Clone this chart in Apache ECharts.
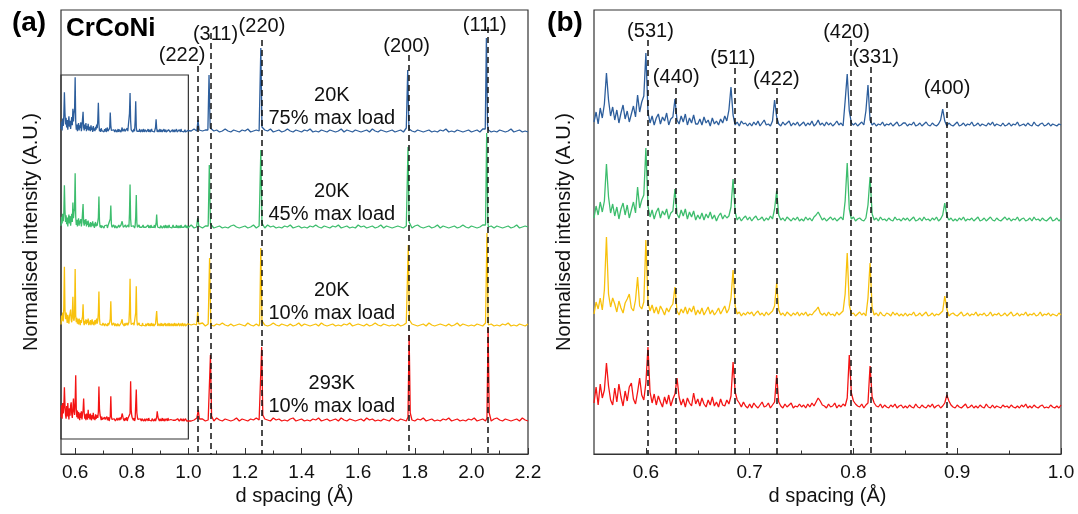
<!DOCTYPE html>
<html lang="en">
<head>
<meta charset="UTF-8">
<title>CrCoNi d spacing</title>
<script src="https://cdn.jsdelivr.net/npm/echarts@6/dist/echarts.min.js"></script>
<style>
  html,body{margin:0;padding:0;background:#fff;}
  #chart{width:1078px;height:514px;}
</style>
</head>
<body>
<div id="chart"></div>
<script>
// ---------- data ----------
// low-d part, 0.55..1.00 A every 0.002 A, intensities in panel (b) units above each trace's baseline
const lowStart = 0.55, lowStep = 0.002;
const lowBlue = [
  4,14,2,18,8,22,53,26,10,19,6,16,3,13,21,7,15,4,12,20,9,31,14,24,30,
  73,14,3,10,1,8,12,2,9,5,13,1,7,9,27,6,2,10,4,12,1,8,3,11,2,
  2,7,1,9,3,6,0,8,2,5,1,7,3,10,5,16,39,11,1,4,0,5,2,3,0,
  3,0,4,1,5,0,3,6,1,2,0,5,26,9,2,0,4,1,3,5,0,3,1,4,0,
  2,4,0,3,1,5,0,2,6,1,3,0,4,1,3,0,2,5,1,3,0,25,52,15,3,
  1,3,0,2,4,1,15,41,6,1,3,0,2,1,4,0,2,1,3,0,2,4,0,1,3,
  3,0,2,1,4,0,1,3,0,2,4,1,0,3,1,0,2,6,17,5,0,3,1,0,2,
  4,0,1,3,0,2,1,4,0,1,3,0,2,1,0,3,1,4,0,2,1,0,3,0,1,
  3,0,2,1,4,0,1,2,0,3,1,0,4,1,0,2,3,0,1,3,0,2,1,0,2,1
];
const lowGreen = [
  3,15,6,19,9,20,57,24,8,17,5,14,2,12,18,6,16,3,11,19,8,34,13,21,26,
  73,15,4,11,2,9,13,3,10,6,12,2,8,10,32,7,3,11,5,12,2,9,4,10,1,
  6,2,8,1,7,3,9,2,6,0,5,8,2,6,3,5,14,42,9,1,4,0,3,5,1,
  4,0,3,5,1,2,4,0,3,1,5,2,12,30,6,1,3,0,4,2,0,3,1,4,0,
  2,0,4,1,3,0,4,6,9,5,1,3,0,2,4,1,3,0,2,4,1,20,58,12,2,
  4,0,2,3,1,0,3,16,44,7,1,3,0,4,1,2,0,3,1,0,4,1,2,0,3,
  1,3,0,2,4,0,1,3,0,4,1,2,0,3,1,4,0,2,6,18,5,1,3,0,2,
  0,3,1,4,0,2,1,3,0,2,4,0,1,3,0,2,4,1,0,3,1,0,2,4,1,
  3,0,2,1,4,0,2,3,0,1,3,0,4,1,2,0,3,1,0,2,4,0,1,3,0,2
];
const lowYellow = [
  2,14,7,18,6,26,79,22,9,18,12,4,15,8,3,13,17,22,8,5,16,39,10,7,14,
  76,14,5,11,3,9,2,10,6,1,8,4,9,12,29,5,1,7,3,9,2,8,4,10,1,
  6,2,8,1,5,9,2,6,1,4,8,2,6,10,3,7,18,46,10,2,4,0,3,1,4,
  2,4,0,3,5,1,3,0,4,1,3,5,10,33,6,1,3,0,4,2,0,3,1,4,0,
  3,1,4,0,2,1,4,6,9,3,1,3,0,4,1,2,0,4,1,3,5,22,63,11,2,
  3,0,2,4,1,3,0,18,53,8,1,3,0,4,1,0,3,2,0,4,1,3,0,2,0,
  3,0,2,1,4,0,1,3,0,2,4,0,1,3,0,2,1,3,5,20,7,0,2,3,1,
  0,2,4,0,1,3,0,2,1,4,0,2,1,3,0,1,4,0,2,1,3,0,1,3,0,
  2,4,0,1,3,0,2,1,4,0,2,1,3,0,1,4,0,2,1,3,0,2,1,0,3,1
];
const lowRed = [
  5,21,3,24,10,18,45,22,8,3,20,6,24,11,2,17,7,21,25,9,4,16,30,13,8,
  25,61,16,5,14,3,12,6,1,11,4,13,2,9,14,30,11,3,9,1,10,5,2,15,4,
  9,2,10,4,1,8,3,11,2,6,1,9,3,2,8,4,12,46,16,8,5,1,6,2,0,
  4,0,5,2,0,3,6,1,2,5,0,3,6,33,6,2,0,4,1,3,5,0,2,1,4,
  1,3,0,4,1,5,2,6,10,7,3,2,0,4,1,2,5,0,3,1,4,2,10,53,15,
  7,4,2,1,4,0,3,5,42,11,5,2,1,4,0,3,1,0,3,1,4,0,2,3,0,
  2,0,3,1,0,4,1,0,3,1,0,3,1,4,0,2,3,0,2,5,13,7,3,1,0,
  3,1,0,2,4,0,1,3,0,2,0,3,1,0,4,1,0,3,0,2,1,0,3,1,2,
  0,3,1,0,2,0,3,1,4,0,2,0,3,1,0,2,3,0,1,0,3,1,0,2,0,3
];

// high-d part, 1.00..2.20 A every 0.01 A, panel (a) units
const highStart = 1.0, highStep = 0.01;
const highBlue = [
  2,1,3,0,2,1,2,0,3,1,2,0,1,3,1,0,2,1,0,2,1,3,0,1,2,
  1,0,2,1,3,0,1,2,0,1,3,1,0,2,1,0,2,1,3,0,1,0,2,1,0,
  2,1,0,1,3,0,2,1,0,2,1,0,1,2,0,3,1,0,2,1,0,1,2,0,1,
  2,0,1,3,1,0,2,1,0,1,2,0,1,0,2,1,3,0,1,0,2,1,0,1,2,
  0,1,2,0,3,1,2,0,1,0,2,1,0,1,3,0,1,2,0,1,0
];
const highGreen = [
  1,3,0,2,1,0,2,1,3,0,1,2,0,1,0,2,3,1,0,1,2,0,1,3,0,
  2,1,0,3,1,2,0,1,0,2,1,3,0,1,2,0,1,0,2,1,3,1,0,2,1,
  0,2,1,3,0,1,2,0,1,0,3,1,2,0,1,2,0,1,3,0,2,1,0,1,2,
  1,0,2,1,0,2,3,1,0,1,2,0,1,3,0,2,1,0,1,2,0,1,3,1,0,
  2,1,0,1,3,0,1,2,0,2,1,0,1,2,0,1,3,0,1,2,1
];
const highYellow = [
  3,1,2,0,1,3,0,2,1,0,2,1,3,1,0,2,0,1,2,1,0,3,1,0,2,
  0,2,1,0,1,3,1,0,2,1,0,2,0,1,3,0,2,1,0,1,2,0,3,1,0,
  1,2,0,1,0,2,1,3,0,1,2,1,0,2,0,1,3,1,0,2,1,0,1,0,2,
  0,1,3,0,2,1,0,1,2,0,3,1,0,1,2,1,0,2,0,1,3,0,2,1,0,
  1,0,2,1,0,3,1,2,0,1,0,2,1,3,0,1,0,2,1,0,2
];
const highRed = [
  2,0,1,3,1,2,0,1,2,0,3,1,0,2,1,0,1,3,0,2,1,0,2,1,3,
  1,0,2,1,0,3,1,2,0,1,0,2,3,0,1,2,0,1,0,2,1,3,0,1,2,
  0,1,2,0,3,1,0,2,1,0,1,2,0,3,1,2,0,1,0,2,1,0,3,1,0,
  2,1,0,3,1,0,2,1,3,0,1,2,0,1,0,2,1,3,0,1,2,0,1,0,2,
  1,3,0,1,2,0,1,0,2,3,1,0,2,1,0,1,2,0,3,1,0
];

// Bragg peaks in panel (a): [d, intensity] foot / top / foot
const peaksBlue = [
  [1.030,1],[1.034,12],[1.038,2], [1.069,2],[1.073,57],[1.077,4],
  [1.252,3],[1.256,84],[1.260,5], [1.770,4],[1.775,62],[1.779,6],
  [2.049,3],[2.053,94],[2.057,7]
];
const peaksGreen = [
  [1.029,1],[1.033,10],[1.037,2], [1.070,2],[1.074,63],[1.078,4],
  [1.252,3],[1.256,78],[1.260,5], [1.772,4],[1.776,81],[1.780,6],
  [2.050,3],[2.054,95],[2.058,6]
];
const peaksYellow = [
  [1.029,1],[1.033,14],[1.037,2], [1.071,2],[1.075,68],[1.079,4],
  [1.252,3],[1.256,78],[1.260,5], [1.773,4],[1.777,81],[1.781,6],
  [2.051,3],[2.055,93],[2.059,6]
];
const peaksRed = [
  [1.031,1],[1.035,11],[1.039,2], [1.074,2],[1.078,66],[1.082,5],
  [1.255,3],[1.259,74],[1.263,6], [1.776,4],[1.780,86],[1.784,8],
  [2.055,3],[2.059,93],[2.063,8]
];

const traceNames = ['20K 75% max load', '20K 45% max load', '20K 10% max load', '293K 10% max load'];
const traceLabels = ['20K\n75% max load', '20K\n45% max load', '20K\n10% max load', '293K\n10% max load'];

const hklA = ['(222)', '(311)', '(220)', '(200)', '(111)'];
const dA = [1.034, 1.079, 1.258, 1.780, 2.059];
const hklB = ['(531)', '(440)', '(511)', '(422)', '(420)', '(331)', '(400)'];
const dB = [0.6018, 0.6288, 0.6857, 0.7260, 0.797, 0.8167, 0.8897];

const ticksA = [0.6, 0.8, 1.0, 1.2, 1.4, 1.6, 1.8, 2.0, 2.2];
const minorA = [0.7, 0.9, 1.1, 1.3, 1.5, 1.7, 1.9, 2.1];
const ticksB = [0.6, 0.7, 0.8, 0.9, 1.0];
const minorB = [0.65, 0.75, 0.85, 0.95];

// ---------- layout ----------
const colors = ['#2d5e9c', '#3dbd6d', '#f8c10c', '#f41414'];
const offA = [322, 226, 128, 33];     // stacking offsets, panel (a)
const offB = [328, 233, 138, 46];     // stacking offsets, panel (b)
const gainA = 0.75;                   // panel (a) shows the low-d part less magnified
const lineTopA = [388, 421, 414, 399, 427];
const labelPosA = [[0.978,399],[1.096,420],[1.260,428],[1.771,408],[2.047,429]];
const lineTopB = [414, 366, 386, 366, 414, 387, 352];
const labelPosB = [[0.6044,423],[0.6292,377],[0.6838,396],[0.7257,375],[0.7933,422],[0.8213,397],[0.8902,366]];
const condPos = [[1.507,347],[1.507,251],[1.507,152],[1.507,59]];
const FONT = 'Liberation Sans, Arial, sans-serif';

const lows = [lowBlue, lowGreen, lowYellow, lowRed];
const highs = [highBlue, highGreen, highYellow, highRed];
const peaks = [peaksBlue, peaksGreen, peaksYellow, peaksRed];

function lowPts(arr, k, off, dMax) {
  return arr.map((v, i) => [+(lowStart + i * lowStep).toFixed(3), v * k + off])
            .filter(p => p[0] <= dMax);
}
function highPts(grid, pk, off) {
  const spans = [];
  for (let j = 0; j < pk.length; j += 3) spans.push([pk[j][0], pk[j + 2][0]]);
  const pts = grid.map((v, i) => [+(highStart + i * highStep).toFixed(3), v])
                  .filter(p => !spans.some(s => p[0] >= s[0] && p[0] <= s[1]));
  return pts.concat(pk).sort((a, b) => a[0] - b[0]).map(p => [p[0], p[1] + off]);
}

const dashStyle = {color: '#111', type: [6, 4], width: 1.5};
const txt = {fontFamily: FONT, fontSize: 20, color: '#111'};

function mainX(gi, min, max, ticks) {
  return {
    type: 'value', gridIndex: gi, min: min, max: max, position: 'bottom',
    name: 'd spacing (Å)', nameLocation: 'middle', nameGap: 31,
    nameTextStyle: {fontFamily: FONT, fontSize: 20, color: '#111'},
    axisLine: {show: true, lineStyle: {color: '#333', width: 1.2}},
    axisTick: {show: true, inside: true, length: 6, customValues: ticks, lineStyle: {color: '#333'}},
    axisLabel: {customValues: ticks, margin: 9, fontFamily: FONT, fontSize: 19, color: '#111',
                formatter: v => v.toFixed(1)},
    splitLine: {show: false}
  };
}
function minorX(gi, min, max, ticks) {
  return {
    type: 'value', gridIndex: gi, min: min, max: max, position: 'bottom',
    axisLine: {show: false},
    axisTick: {show: true, inside: true, length: 3.5, customValues: ticks, lineStyle: {color: '#333'}},
    axisLabel: {show: false}, splitLine: {show: false}
  };
}
function yAx(gi) {
  return {
    type: 'value', gridIndex: gi, min: 0, max: 444,
    name: 'Normalised intensity (A.U.)', nameLocation: 'middle', nameGap: 20,
    nameTextStyle: {fontFamily: FONT, fontSize: 20, color: '#111'},
    axisLine: {show: false}, axisTick: {show: false}, axisLabel: {show: false}, splitLine: {show: false}
  };
}

const series = [];
for (let t = 0; t < 4; t++) {
  series.push({
    name: traceNames[t], type: 'line', xAxisIndex: 0, yAxisIndex: 0,
    symbol: 'none', animation: false, color: colors[t], lineStyle: {width: 1.3},
    data: lowPts(lows[t], gainA, offA[t], 0.999).concat(highPts(highs[t], peaks[t], offA[t]))
  });
  series.push({
    name: traceNames[t], type: 'line', xAxisIndex: 2, yAxisIndex: 1,
    symbol: 'none', animation: false, color: colors[t], lineStyle: {width: 1.3},
    data: lowPts(lows[t], 1, offB[t], 1.0)
  });
}

// guide lines, hkl labels and panel annotations
series.push({
  type: 'line', xAxisIndex: 0, yAxisIndex: 0, data: [], z: 5, silent: true,
  markLine: {silent: true, symbol: ['none', 'none'], animation: false, lineStyle: dashStyle, label: {show: false},
    data: dA.map((d, i) => [{coord: [d, lineTopA[i]]}, {coord: [d, 0]}])},
  markPoint: {silent: true, symbol: 'circle', symbolSize: 0, animation: false,
    label: Object.assign({show: true, position: 'inside', formatter: '{b}', lineHeight: 23, align: 'center', verticalAlign: 'middle'}, txt),
    data: hklA.map((n, i) => ({name: n, coord: labelPosA[i]}))
      .concat(traceLabels.map((n, i) => ({name: n, coord: condPos[i]})))},
  markArea: {silent: true, animation: false,
    itemStyle: {color: 'rgba(0,0,0,0)', borderColor: '#333', borderWidth: 1.2},
    label: {show: true, position: 'insideTopRight', distance: [4, 5], formatter: '(b)',
            fontFamily: FONT, fontSize: 20, fontWeight: 'bold', color: '#111'},
    data: [[{coord: [0.55, 15]}, {coord: [1.0, 379]}]]}
});
series.push({
  type: 'line', xAxisIndex: 2, yAxisIndex: 1, data: [], z: 5, silent: true,
  markLine: {silent: true, symbol: ['none', 'none'], animation: false, lineStyle: dashStyle, label: {show: false},
    data: dB.map((d, i) => [{coord: [d, lineTopB[i]]}, {coord: [d, 0]}])},
  markPoint: {silent: true, symbol: 'circle', symbolSize: 0, animation: false,
    label: Object.assign({show: true, position: 'inside', formatter: '{b}', align: 'center', verticalAlign: 'middle'}, txt),
    data: hklB.map((n, i) => ({name: n, coord: labelPosB[i]}))}
});

const option = {
  animation: false,
  backgroundColor: '#fff',
  textStyle: {fontFamily: FONT},
  grid: [
    {left: 61, right: 550, top: 10, bottom: 60, show: true, borderColor: '#333', borderWidth: 1.2},
    {left: 594, right: 17, top: 10, bottom: 60, show: true, borderColor: '#333', borderWidth: 1.2}
  ],
  xAxis: [
    mainX(0, 0.55, 2.2, ticksA), minorX(0, 0.55, 2.2, minorA),
    mainX(1, 0.55, 1.0, ticksB), minorX(1, 0.55, 1.0, minorB)
  ],
  yAxis: [yAx(0), yAx(1)],
  graphic: [
    {type: 'text', x: 29, y: 23, style: {text: '(a)', fontFamily: FONT, fontSize: 28, fontWeight: 'bold', fill: '#000', align: 'center', verticalAlign: 'middle'}},
    {type: 'text', x: 565, y: 23, style: {text: '(b)', fontFamily: FONT, fontSize: 28, fontWeight: 'bold', fill: '#000', align: 'center', verticalAlign: 'middle'}},
    {type: 'text', x: 66, y: 29, style: {text: 'CrCoNi', fontFamily: FONT, fontSize: 26, fontWeight: 'bold', fill: '#000', align: 'left', verticalAlign: 'middle'}}
  ],
  series: series
};

const chart = echarts.init(document.getElementById('chart'), null, {renderer: 'canvas'});
chart.setOption(option);
</script>
</body>
</html>
